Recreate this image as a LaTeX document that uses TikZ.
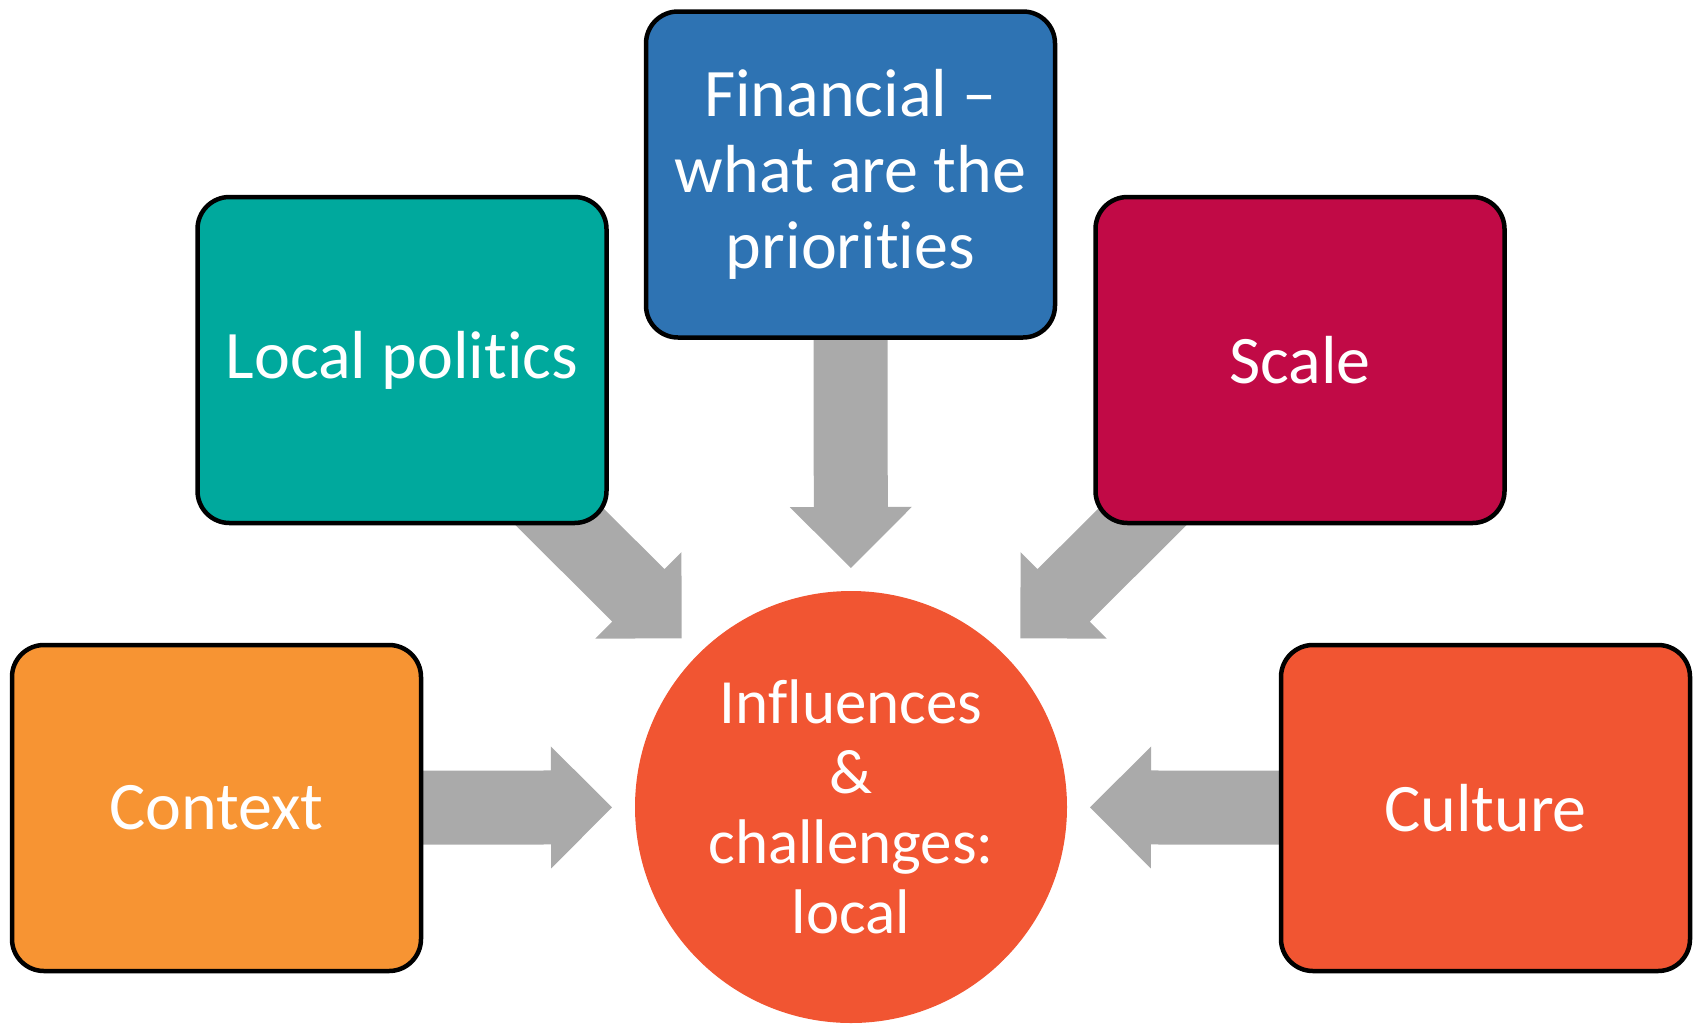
\documentclass[tikz,border=0pt]{standalone}
\usepackage{fontspec}
\setmainfont{Carlito}[Ligatures={NoCommon}]
\usetikzlibrary{calc}
\pgfdeclarelayer{background}
\pgfsetlayers{background,main}
\definecolor{cteal}{HTML}{00A99D}
\definecolor{cblue}{HTML}{2E73B3}
\definecolor{ccrim}{HTML}{C10A46}
\definecolor{corange}{HTML}{F79433}
\definecolor{cred}{HTML}{F15532}
\definecolor{cgray}{HTML}{AAAAAA}
\newcommand\blkarrow[2]{%
  \coordinate (tip) at ($(#2.center)!239pt!(#1.center)$);
  \coordinate (hb) at ($(tip)!61pt!(#1.center)$);
  \fill[cgray] ($(#1.center)!37pt!90:(tip)$) -- ($(hb)!37pt!90:(tip)$)
    -- ($(hb)!61pt!90:(tip)$) -- (tip) -- ($(hb)!61pt!-90:(tip)$)
    -- ($(hb)!37pt!-90:(tip)$) -- ($(#1.center)!37pt!-90:(tip)$) -- cycle;
}
\begin{document}
\begin{tikzpicture}[x=1pt,y=-1pt,
  boxstyle/.style={draw=black, line width=4.5pt, rounded corners=32pt,
    minimum width=409pt, minimum height=326pt, inner sep=0pt,
    text=white, align=center, font=\fontsize{68}{76}\selectfont},
  hubstyle/.style={circle, fill=cred, minimum size=432pt, inner sep=0pt,
    text=white, align=center, font=\fontsize{63}{70}\selectfont}]
\useasboundingbox (0,0) rectangle (1696,1023);
\node[boxstyle, fill=corange] (ctx) at (216.5,808) {Context};
\node[boxstyle, fill=cteal] (lp) at (402,360) {Local politics};
\node[boxstyle, fill=cblue] (fin) at (850.5,174.5) {Financial --\\what are the\\priorities};
\node[boxstyle, fill=ccrim] (scl) at (1300,360) {Scale};
\node[boxstyle, fill=cred] (cul) at (1485.5,808) {Culture};
\node[hubstyle] (hub) at (851,807) {Influences\\\&\\challenges:\\local};
\begin{pgfonlayer}{background}
\blkarrow{ctx}{hub}
\blkarrow{lp}{hub}
\blkarrow{fin}{hub}
\blkarrow{scl}{hub}
\blkarrow{cul}{hub}
\end{pgfonlayer}
\end{tikzpicture}
\end{document}
